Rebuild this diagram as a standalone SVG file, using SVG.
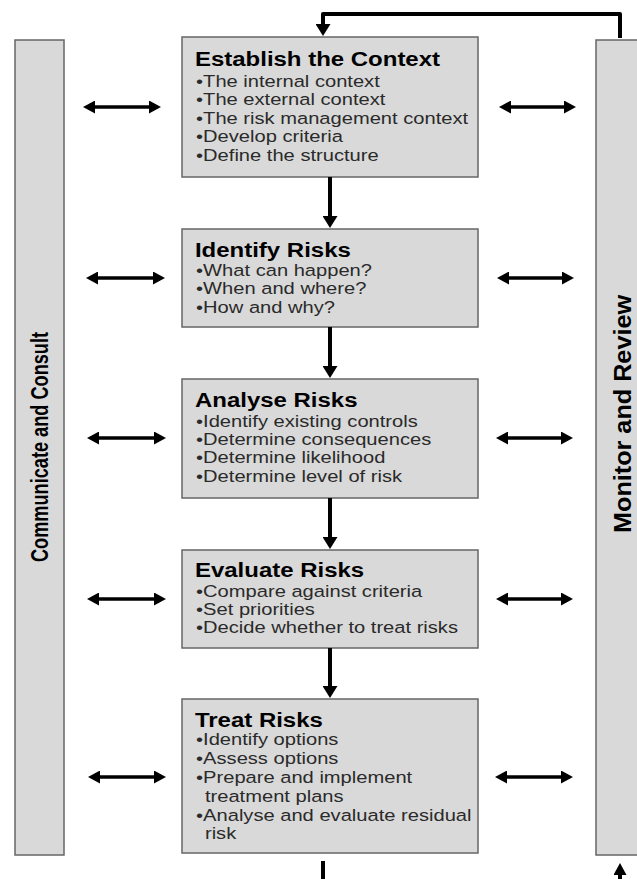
<svg xmlns="http://www.w3.org/2000/svg" width="637" height="879" viewBox="0 0 637 879">
<style>
.box{fill:#d9d9d9;stroke:#666;stroke-width:1.5}
.ttl{font-family:"Liberation Sans",Arial,sans-serif;font-weight:bold;font-size:19.5px;fill:#000}
.bul{font-family:"Liberation Sans",Arial,sans-serif;font-size:16.5px;fill:#2a2a2a}
.side{font-family:"Liberation Sans",Arial,sans-serif;font-weight:bold;fill:#000}
.ln{stroke:#000;stroke-width:4;fill:none}
.hl{stroke:#000;stroke-width:3.5;fill:none}
</style>
<defs>
<marker id="ah" markerUnits="userSpaceOnUse" markerWidth="13" markerHeight="15" refX="1" refY="7.5" orient="auto-start-reverse"><path d="M0,0 L12,7.5 L0,15 z" fill="#000"/></marker>
<marker id="ahs" markerUnits="userSpaceOnUse" markerWidth="13" markerHeight="13" refX="1" refY="6.5" orient="auto-start-reverse"><path d="M0,0 L12,6.5 L0,13 z" fill="#000"/></marker>
</defs>

<g id="communicate">
<rect class="box" x="15" y="40" width="49" height="815"/>
<text class="side" font-size="18" text-anchor="middle" textLength="230" lengthAdjust="spacingAndGlyphs" transform="translate(48,447) scale(1.3,1) rotate(-90)">Communicate and Consult</text>
</g>
<g id="monitor">
<rect class="box" x="596" y="40" width="45" height="815"/>
<text class="side" font-size="19" text-anchor="middle" textLength="238" lengthAdjust="spacingAndGlyphs" transform="translate(631,414) scale(1.3,1) rotate(-90)">Monitor and Review</text>
</g>

<g id="establish">
<rect class="box" x="182" y="37" width="296" height="140"/>
<g transform="scale(1.23,1)"><text class="ttl" x="158.5" y="66">Establish the Context</text></g>
<g transform="scale(1.22,1)">
<text class="bul" x="160.7" y="87">•The internal context</text>
<text class="bul" x="160.7" y="105.5">•The external context</text>
<text class="bul" x="160.7" y="124">•The risk management context</text>
<text class="bul" x="160.7" y="142.5">•Develop criteria</text>
<text class="bul" x="160.7" y="161">•Define the structure</text>
</g>
</g>

<g id="identify">
<rect class="box" x="182" y="229" width="296" height="98"/>
<g transform="scale(1.23,1)"><text class="ttl" x="158.5" y="257">Identify Risks</text></g>
<g transform="scale(1.22,1)">
<text class="bul" x="160.7" y="276">•What can happen?</text>
<text class="bul" x="160.7" y="294.5">•When and where?</text>
<text class="bul" x="160.7" y="313">•How and why?</text>
</g>
</g>

<g id="analyse">
<rect class="box" x="182" y="379" width="296" height="119"/>
<g transform="scale(1.23,1)"><text class="ttl" x="158.5" y="407">Analyse Risks</text></g>
<g transform="scale(1.22,1)">
<text class="bul" x="160.7" y="427">•Identify existing controls</text>
<text class="bul" x="160.7" y="445">•Determine consequences</text>
<text class="bul" x="160.7" y="463.5">•Determine likelihood</text>
<text class="bul" x="160.7" y="482">•Determine level of risk</text>
</g>
</g>

<g id="evaluate">
<rect class="box" x="182" y="550" width="296" height="98"/>
<g transform="scale(1.23,1)"><text class="ttl" x="158.5" y="577">Evaluate Risks</text></g>
<g transform="scale(1.22,1)">
<text class="bul" x="160.7" y="597">•Compare against criteria</text>
<text class="bul" x="160.7" y="615">•Set priorities</text>
<text class="bul" x="160.7" y="633">•Decide whether to treat risks</text>
</g>
</g>

<g id="treat">
<rect class="box" x="182" y="699" width="296" height="154"/>
<g transform="scale(1.23,1)"><text class="ttl" x="158.5" y="727">Treat Risks</text></g>
<g transform="scale(1.22,1)">
<text class="bul" x="160.7" y="745">•Identify options</text>
<text class="bul" x="160.7" y="764">•Assess options</text>
<text class="bul" x="160.7" y="783">•Prepare and implement</text>
<text class="bul" x="168" y="802">treatment plans</text>
<text class="bul" x="160.7" y="821">•Analyse and evaluate residual</text>
<text class="bul" x="168" y="839">risk</text>
</g>
</g>

<g id="connectors">
<path class="ln" d="M330,177 V217" marker-end="url(#ah)"/>
<path class="ln" d="M330,327 V367" marker-end="url(#ah)"/>
<path class="ln" d="M330,498 V538" marker-end="url(#ah)"/>
<path class="ln" d="M330,648 V687" marker-end="url(#ah)"/>
<path class="ln" d="M620,38 V14 H323 V25" stroke-linejoin="round" marker-end="url(#ah)"/>
<path class="ln" d="M323,861 V879"/>
<path class="ln" d="M620,879 V874" marker-end="url(#ahs)"/>

<path class="hl" d="M94,107 H150" marker-start="url(#ahs)" marker-end="url(#ahs)"/>
<path class="hl" d="M510,107 H565" marker-start="url(#ahs)" marker-end="url(#ahs)"/>
<path class="hl" d="M97,278 H154" marker-start="url(#ahs)" marker-end="url(#ahs)"/>
<path class="hl" d="M508,278 H563" marker-start="url(#ahs)" marker-end="url(#ahs)"/>
<path class="hl" d="M98,438 H155" marker-start="url(#ahs)" marker-end="url(#ahs)"/>
<path class="hl" d="M507,438 H562" marker-start="url(#ahs)" marker-end="url(#ahs)"/>
<path class="hl" d="M98,599 H155" marker-start="url(#ahs)" marker-end="url(#ahs)"/>
<path class="hl" d="M507,599 H562" marker-start="url(#ahs)" marker-end="url(#ahs)"/>
<path class="hl" d="M99,777 H155" marker-start="url(#ahs)" marker-end="url(#ahs)"/>
<path class="hl" d="M506,777 H562" marker-start="url(#ahs)" marker-end="url(#ahs)"/>
</g>
</svg>
